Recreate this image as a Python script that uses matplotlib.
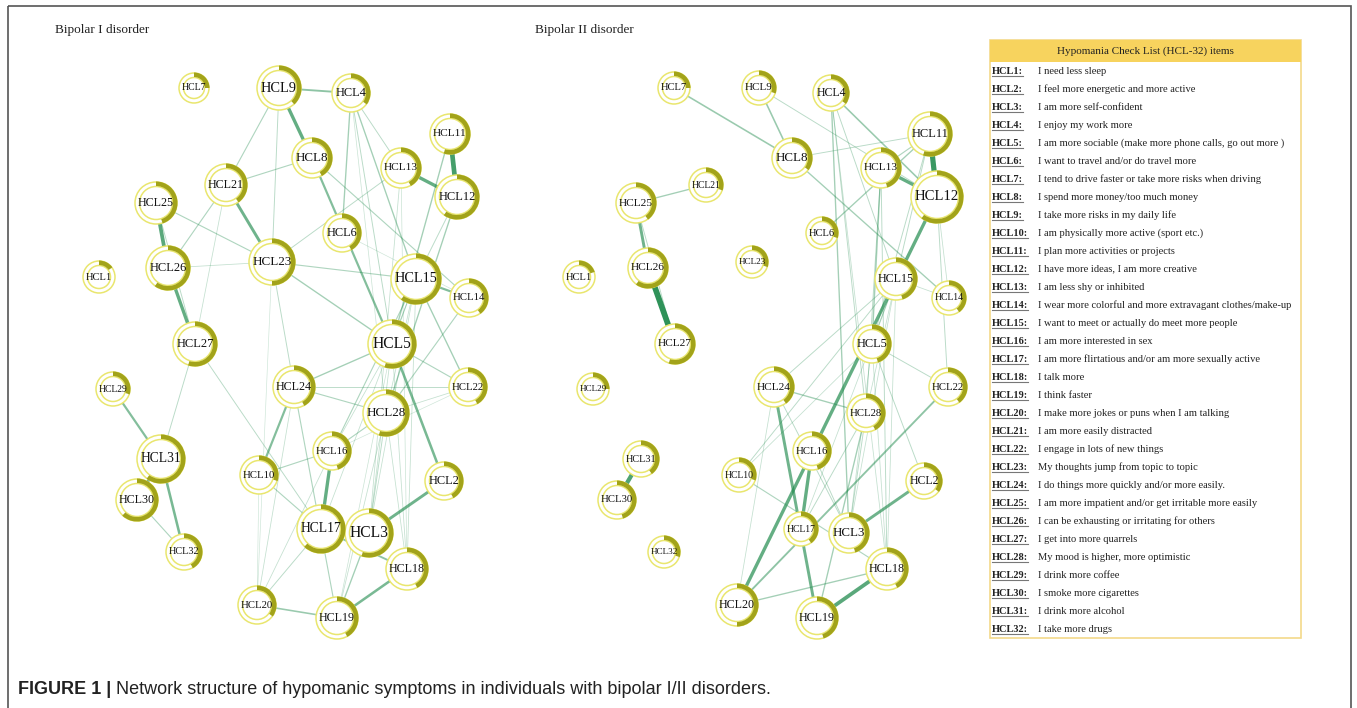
import matplotlib
matplotlib.use("Agg")
import matplotlib.pyplot as plt
from matplotlib.patches import Circle, Wedge, Rectangle

W, H = 1357, 708

# node layout (same layout in both panels, second panel shifted right)
nodes = ["HCL%d" % i for i in range(1, 33)]
pos = {
    "HCL1": (99, 277), "HCL2": (444, 481), "HCL3": (369, 533), "HCL4": (351, 93),
    "HCL5": (392, 344), "HCL6": (342, 233), "HCL7": (194, 88), "HCL8": (312, 158),
    "HCL9": (279, 88), "HCL10": (259, 475), "HCL11": (450, 134), "HCL12": (457, 197),
    "HCL13": (401, 168), "HCL14": (469, 298), "HCL15": (416, 279), "HCL16": (332, 451),
    "HCL17": (321, 529), "HCL18": (407, 569), "HCL19": (337, 618), "HCL20": (257, 605),
    "HCL21": (226, 185), "HCL22": (468, 387), "HCL23": (272, 262), "HCL24": (294, 387),
    "HCL25": (156, 203), "HCL26": (168, 268), "HCL27": (195, 344), "HCL28": (386, 413),
    "HCL29": (113, 389), "HCL30": (137, 500), "HCL31": (161, 459), "HCL32": (184, 552),
}
panel_shift = [0, 480]
panel_titles = ["Bipolar I disorder", "Bipolar II disorder"]

# node size (strength) per panel, HCL1..HCL32
size_bp1 = [16, 19, 24, 19, 24, 19, 15, 20, 22, 19, 20, 22, 20, 19, 25, 19,
            24, 21, 21, 19, 21, 19, 23, 21, 21, 22, 22, 23, 17, 21, 24, 18]
size_bp2 = [16, 18, 20, 18, 19, 16, 16, 20, 17, 17, 22, 26, 20, 17, 21, 19,
            17, 21, 21, 21, 17, 19, 16, 20, 20, 20, 20, 19, 16, 19, 18, 16]
# predictability (pie fraction) per panel
pie_bp1 = [0.15, 0.42, 0.55, 0.35, 0.55, 0.42, 0.25, 0.42, 0.38, 0.30, 0.55, 0.60, 0.42, 0.40, 0.60, 0.45,
           0.62, 0.42, 0.42, 0.35, 0.40, 0.42, 0.50, 0.42, 0.45, 0.60, 0.55, 0.55, 0.30, 0.62, 0.60, 0.42]
pie_bp2 = [0.20, 0.35, 0.45, 0.35, 0.45, 0.30, 0.25, 0.35, 0.30, 0.30, 0.55, 0.60, 0.45, 0.40, 0.45, 0.45,
           0.40, 0.42, 0.45, 0.50, 0.30, 0.40, 0.30, 0.40, 0.40, 0.60, 0.55, 0.42, 0.25, 0.45, 0.40, 0.30]

# edges (node a, node b, relative weight)
edges_bp1 = [
    (9, 4, 0.40), (9, 8, 0.60), (9, 21, 0.25), (9, 23, 0.20), (8, 21, 0.25), (8, 5, 0.45),
    (8, 14, 0.25), (4, 6, 0.30), (4, 15, 0.30), (4, 5, 0.20), (4, 13, 0.20), (4, 28, 0.12),
    (13, 12, 0.60), (11, 12, 0.75), (11, 5, 0.30), (12, 28, 0.30), (13, 23, 0.20), (13, 3, 0.15),
    (13, 18, 0.12), (21, 23, 0.55), (21, 26, 0.25), (21, 27, 0.15), (25, 26, 0.65), (25, 23, 0.25),
    (25, 27, 0.20), (26, 27, 0.60), (26, 23, 0.15), (23, 15, 0.25), (23, 5, 0.30), (23, 24, 0.20),
    (23, 20, 0.10), (6, 14, 0.10), (15, 14, 0.45), (15, 22, 0.30), (15, 28, 0.15), (15, 16, 0.25),
    (15, 3, 0.15), (15, 18, 0.15), (15, 17, 0.15), (15, 5, 0.20), (14, 28, 0.25), (27, 31, 0.20),
    (27, 17, 0.20), (29, 31, 0.45), (31, 32, 0.50), (31, 30, 0.55), (30, 32, 0.25), (5, 24, 0.30),
    (5, 22, 0.25), (5, 2, 0.50), (5, 16, 0.15), (5, 3, 0.15), (5, 18, 0.15), (5, 19, 0.12),
    (24, 22, 0.20), (24, 28, 0.25), (24, 10, 0.45), (24, 19, 0.25), (24, 20, 0.15), (22, 28, 0.15),
    (22, 16, 0.10), (28, 16, 0.25), (28, 3, 0.20), (28, 18, 0.15), (28, 19, 0.15), (16, 10, 0.25),
    (16, 17, 0.60), (16, 20, 0.15), (10, 17, 0.25), (10, 20, 0.10), (17, 3, 0.30), (17, 18, 0.40),
    (17, 20, 0.20), (3, 2, 0.55), (3, 19, 0.30), (18, 19, 0.50), (20, 19, 0.35), (12, 15, 0.20),
]
edges_bp2 = [
    (7, 8, 0.35), (9, 8, 0.35), (9, 12, 0.20), (8, 14, 0.30), (8, 11, 0.20), (4, 12, 0.35),
    (4, 3, 0.30), (4, 28, 0.20), (4, 15, 0.20), (4, 18, 0.15), (11, 12, 0.80), (11, 13, 0.25),
    (11, 6, 0.30), (11, 15, 0.20), (11, 5, 0.20), (13, 12, 0.60), (13, 5, 0.30), (13, 28, 0.20),
    (13, 18, 0.20), (12, 20, 0.60), (12, 14, 0.15), (12, 22, 0.20), (25, 21, 0.30), (25, 26, 0.55),
    (26, 27, 0.85), (25, 27, 0.20), (31, 30, 0.70), (15, 14, 0.15), (15, 24, 0.20), (15, 10, 0.20),
    (15, 5, 0.20), (15, 28, 0.15), (15, 3, 0.15), (15, 17, 0.15), (15, 18, 0.15), (16, 17, 0.60),
    (24, 19, 0.55), (22, 20, 0.40), (2, 3, 0.55), (18, 19, 0.65), (18, 20, 0.30), (24, 28, 0.30),
    (24, 3, 0.20), (24, 20, 0.15), (10, 18, 0.25), (10, 5, 0.15), (16, 3, 0.20), (28, 19, 0.30),
    (28, 17, 0.20), (5, 22, 0.20), (5, 2, 0.20), (5, 3, 0.15), (5, 18, 0.15), (3, 28, 0.20),
]
sizes = [size_bp1, size_bp2]
pies = [pie_bp1, pie_bp2]
edge_sets = [edges_bp1, edges_bp2]

items = [
    "I need less sleep", "I feel more energetic and more active", "I am more self-confident",
    "I enjoy my work more", "I am more sociable (make more phone calls, go out more )",
    "I want to travel and/or do travel more",
    "I tend to drive faster or take more risks when driving", "I spend more money/too much money",
    "I take more risks in my daily life", "I am physically more active (sport etc.)",
    "I plan more activities or projects", "I have more ideas, I am more creative",
    "I am less shy or inhibited", "I wear more colorful and more extravagant clothes/make-up",
    "I want to meet or actually do meet more people", "I am more interested in sex",
    "I am more flirtatious and/or am more sexually active", "I talk more", "I think faster",
    "I make more jokes or puns when I am talking", "I am more easily distracted",
    "I engage in lots of new things", "My thoughts jump from topic to topic",
    "I do things more quickly and/or more easily.",
    "I am more impatient and/or get irritable more easily",
    "I can be exhausting or irritating for others", "I get into more quarrels",
    "My mood is higher, more optimistic", "I drink more coffee", "I smoke more cigarettes",
    "I drink more alcohol", "I take more drugs",
]

serif = ["Liberation Serif", "DejaVu Serif"]
sans = ["Liberation Sans", "DejaVu Sans"]
ring_col = "#e9e66e"
pie_col = "#a2a31a"
edge_col = "#1f8a4c"

fig = plt.figure(figsize=(W / 100, H / 100), dpi=100)
ax = fig.add_axes([0, 0, 1, 1])
ax.set_xlim(0, W)
ax.set_ylim(H, 0)
ax.axis("off")

# frame
ax.add_patch(Rectangle((8, 6), 1343, 720, fill=False, ec="#555555", lw=1.2, clip_on=True))

for p in range(2):
    dx = panel_shift[p]
    ax.text(55 + dx, 30, panel_titles[p], fontsize=9.5, family=serif, va="center", color="#222222")
    for a, b, w in sorted(edge_sets[p], key=lambda e: e[2]):
        xa, ya = pos["HCL%d" % a]
        xb, yb = pos["HCL%d" % b]
        ax.plot([xa + dx, xb + dx], [ya, yb], color=edge_col,
                lw=0.4 + 5 * w ** 1.8, alpha=min(1, 0.12 + 0.95 * w), zorder=1,
                solid_capstyle="butt")
    for i, name in enumerate(nodes):
        x, y = pos[name]
        x += dx
        r = sizes[p][i]
        ax.add_patch(Circle((x, y), r, fc="white", ec=ring_col, lw=1.1, zorder=3))
        ax.add_patch(Circle((x, y), r - 4.5, fc="none", ec=ring_col, lw=1.1, zorder=3))
        ax.add_patch(Wedge((x, y), r + 0.5, -90, -90 + 360 * pies[p][i], width=4.5,
                           fc=pie_col, ec="none", zorder=4))
        ax.text(x, y, name, fontsize=r * 0.47 if len(name) == 4 else r * 0.41,
                family=serif, ha="center", va="center", color="#111111", zorder=5)

# item table
tx0, tx1, ty0, ty1 = 990, 1301, 40, 638
ax.add_patch(Rectangle((tx0, ty0), tx1 - tx0, ty1 - ty0, fc="white", ec="#f3d98a", lw=1.2, zorder=2))
ax.add_patch(Rectangle((tx0, ty0), tx1 - tx0, 22, fc="#f7d35e", ec="none", zorder=3))
ax.text((tx0 + tx1) / 2, ty0 + 11, "Hypomania Check List (HCL-32) items", fontsize=8,
        family=serif, ha="center", va="center", color="#222222", zorder=4)
labels = []
for i, desc in enumerate(items):
    y = 71 + 18 * i
    t = ax.text(992, y, "HCL%d:" % (i + 1), fontsize=7.5, family=serif, weight="bold",
                va="center", color="#222222", zorder=4)
    labels.append(t)
    ax.text(1038, y, desc, fontsize=7.6, family=serif, va="center", color="#222222", zorder=4)

fig.canvas.draw()
inv = ax.transData.inverted()
for t in labels:
    bb = t.get_window_extent()
    (x0, y0), (x1, y1) = inv.transform([(bb.x0, bb.y0), (bb.x1, bb.y1)])
    ax.plot([x0, x1], [y0 + 0.5, y0 + 0.5], color="#777777", lw=0.8, zorder=4)

# caption
cap = ax.text(18, 690, "FIGURE 1 |", fontsize=13, weight="bold", va="center",
              family=sans, color="#222222")
ax.annotate(" Network structure of hypomanic symptoms in individuals with bipolar I/II disorders.",
            xy=(1, 0.5), xycoords=cap, va="center", fontsize=13,
            family=sans, color="#222222")

fig.savefig("out.png", dpi=100)
